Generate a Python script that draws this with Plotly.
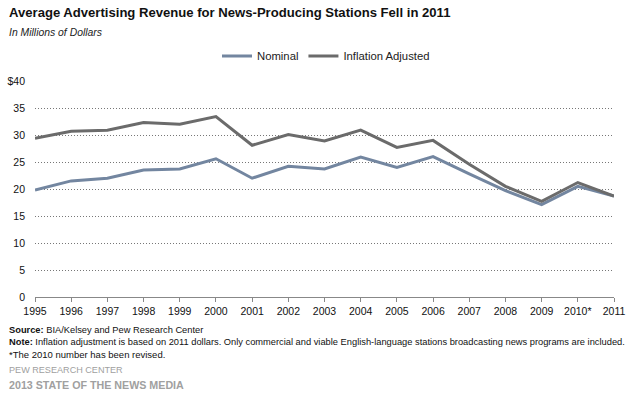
import plotly.graph_objects as go

years = ["1995", "1996", "1997", "1998", "1999", "2000", "2001", "2002", "2003",
         "2004", "2005", "2006", "2007", "2008", "2009", "2010*", "2011"]
nominal = [19.8, 21.5, 22.0, 23.5, 23.7, 25.6, 22.0, 24.2, 23.7,
           25.9, 24.0, 26.0, 22.8, 19.7, 17.1, 20.5, 18.7]
inflation_adjusted = [29.4, 30.7, 30.9, 32.3, 32.0, 33.4, 28.1, 30.1, 28.9,
                      30.9, 27.7, 29.0, 24.6, 20.5, 17.7, 21.2, 18.7]
y_ticks = [0, 5, 10, 15, 20, 25, 30, 35, 40]
y_tick_labels = ["0", "5", "10", "15", "20", "25", "30", "35", "$40"]

W, H = 632, 396
L, R, T, B = 35, 18, 81, 99
PW, PH = W - L - R, H - T - B

def px(x):
    return (x - L) / PW

def py(y):
    return (H - B - y) / PH

FONT = "Arial, Liberation Sans, sans-serif"

fig = go.Figure()
fig.add_trace(go.Scatter(x=list(range(len(years))), y=nominal, mode="lines", name="Nominal",
                         line=dict(color="#7386A0", width=3)))
fig.add_trace(go.Scatter(x=list(range(len(years))), y=inflation_adjusted, mode="lines",
                         name="Inflation Adjusted", line=dict(color="#6B6B6B", width=3)))

fig.update_layout(
    width=W, height=H,
    margin=dict(l=L, r=R, t=T, b=B, autoexpand=False),
    plot_bgcolor="white", paper_bgcolor="white",
    font=dict(family=FONT, size=10.5, color="#222"),
    showlegend=True,
    legend=dict(orientation="h", x=px(217), xanchor="left", y=py(56), yanchor="middle",
                font=dict(family=FONT, size=11.3, color="#222"),
                itemwidth=30, tracegroupgap=0, bgcolor="rgba(0,0,0,0)"),
    xaxis=dict(range=[0, len(years) - 1], tickvals=list(range(len(years))), ticktext=years,
               showgrid=False, showline=True, linecolor="#888", linewidth=1,
               ticks="outside", ticklen=4, tickcolor="#888", zeroline=False,
               automargin=False,
               tickfont=dict(family=FONT, size=10.5, color="#111")),
    yaxis=dict(range=[0, 40], tickvals=y_ticks, ticktext=y_tick_labels,
               showgrid=True, gridcolor="#777", griddash="1px,2px", gridwidth=1,
               zeroline=False, showline=False, ticks="", ticklabelstandoff=9,
               automargin=False,
               tickfont=dict(family=FONT, size=10.5, color="#111")),
)

ann = [
    dict(text="<b>Average Advertising Revenue for News-Producing Stations Fell in 2011</b>",
         x=px(7), y=py(13), size=13.1, color="#111"),
    dict(text="<i>In Millions of Dollars</i>", x=px(7), y=py(33), size=10.4, color="#222"),
    dict(text="<b>Source:</b> BIA/Kelsey and Pew Research Center", x=px(7), y=py(330), size=9.3, color="#111"),
    dict(text="<b>Note:</b> Inflation adjustment is based on 2011 dollars. Only commercial and viable English-language stations broadcasting news programs are included.",
         x=px(7), y=py(342), size=9.3, color="#111"),
    dict(text="*The 2010 number has been revised.", x=px(7), y=py(354), size=9.5, color="#111"),
    dict(text="PEW RESEARCH CENTER", x=px(7), y=py(370), size=9.1, color="#A0A0A0"),
    dict(text="<b>2013 STATE OF THE NEWS MEDIA</b>", x=px(7), y=py(385), size=10.7, color="#A0A0A0"),
]
for a in ann:
    fig.add_annotation(text=a["text"], x=a["x"], y=a["y"], xref="paper", yref="paper",
                       xanchor="left", yanchor="middle", showarrow=False,
                       font=dict(family=FONT, size=a["size"], color=a["color"]))

fig.write_html("out.html", config={"displayModeBar": False},
               post_script="document.body.style.margin='0';")
